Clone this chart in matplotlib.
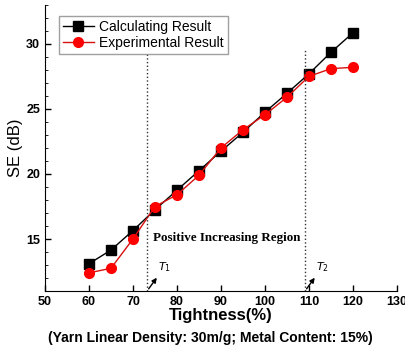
import numpy as np
import matplotlib.pyplot as plt

plt.rcParams['font.family'] = ['Liberation Sans', 'DejaVu Sans']

tightness = [60, 65, 70, 75, 80, 85, 90, 95, 100, 105, 110, 115, 120]
calc = [13.1, 14.15, 15.65, 17.25, 18.75, 20.25, 21.75, 23.2, 24.75, 26.2, 27.7, 29.35, 30.85]
expt = [12.4, 12.75, 15.0, 17.5, 18.4, 19.9, 22.0, 23.4, 24.55, 25.9, 27.5, 28.1, 28.2]
t1, t2 = 73.2, 109.1

fig = plt.figure(figsize=(4.05, 3.49), dpi=100)
ax = fig.add_axes([0.111, 0.166, 0.869, 0.82])

ax.plot(tightness, calc, '-s', color='black', ms=6.5, lw=1, label='Calculating Result')
ax.plot(tightness, expt, '-o', color='#d81010', mfc='red', mec='red', ms=7, lw=1,
        label='Experimental Result')

ax.plot([t1, t1], [11, 29.3], ls=':', color='#333333', lw=1)
ax.plot([t2, t2], [11, 29.6], ls=':', color='#333333', lw=1)

ax.annotate('', xy=(75.8, 12.2), xytext=(t1, 11),
            arrowprops=dict(arrowstyle='-|>', color='black', lw=1, mutation_scale=7))
ax.annotate('', xy=(111.7, 12.2), xytext=(t2, 11),
            arrowprops=dict(arrowstyle='-|>', color='black', lw=1, mutation_scale=7))
ax.text(75.6, 12.6, r'$T_1$', fontsize=8, family='serif')
ax.text(111.6, 12.6, r'$T_2$', fontsize=8, family='serif')

ax.text(91.2, 15.1, 'Positive Increasing Region', family='Liberation Serif',
        fontweight='bold', fontsize=9.4, ha='center', va='center')

ax.set_xlim(50, 130)
ax.set_ylim(11, 33)
ax.set_xticks(np.arange(50, 131, 10))
ax.set_yticks([15, 20, 25, 30])
ax.set_yticks(np.arange(11, 34, 1), minor=True)
ax.tick_params(direction='in', length=4, width=1, labelsize=9)
ax.tick_params(which='minor', direction='in', length=2.5)
for lab in ax.get_xticklabels() + ax.get_yticklabels():
    lab.set_fontweight('bold')

for s in ['top', 'right']:
    ax.spines[s].set_visible(False)

ax.set_ylabel('SE (dB)', fontsize=12, labelpad=2)
ax.set_xlabel('Tightness(%)', fontsize=12, fontweight='bold', labelpad=0)
fig.text(0.52, 0.02, '(Yarn Linear Density: 30m/g; Metal Content: 15%)',
         ha='center', fontsize=10, fontweight='bold')

leg = ax.legend(loc='upper left', bbox_to_anchor=(0.02, 0.985), fontsize=10,
                frameon=True, fancybox=False, edgecolor='#888888',
                handlelength=2.2, borderpad=0.3, labelspacing=0.1, handletextpad=0.4)
leg.get_frame().set_linewidth(1)

fig.savefig('out.png', dpi=100)
